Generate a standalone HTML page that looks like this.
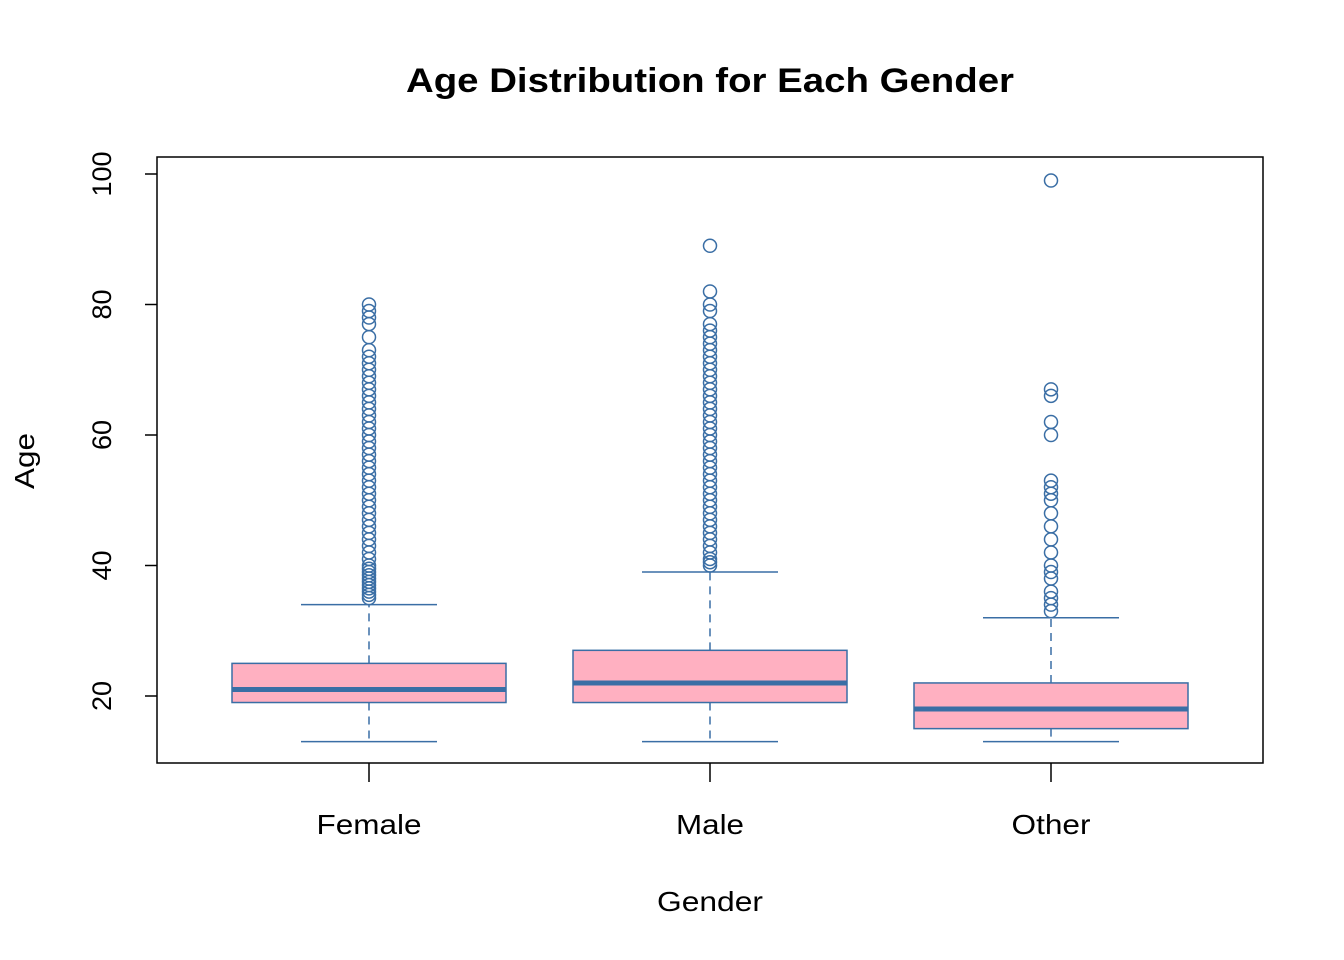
<!DOCTYPE html>
<html><head><meta charset="utf-8"><style>body{margin:0;background:#fff}svg{display:block}text{font-family:"Liberation Sans",Arial,sans-serif}</style></head>
<body>
<svg id="chart" width="1344" height="960" xmlns="http://www.w3.org/2000/svg">
<text x="710" y="92" text-anchor="middle" font-size="34" font-weight="bold" textLength="608" lengthAdjust="spacingAndGlyphs">Age Distribution for Each Gender</text>
<rect x="157" y="157" width="1106" height="606" fill="none" stroke="#000" stroke-width="1.5"/>
<text x="710" y="911" text-anchor="middle" font-size="28" textLength="106" lengthAdjust="spacingAndGlyphs">Gender</text>
<text transform="translate(34,461) rotate(-90)" text-anchor="middle" font-size="28" textLength="56" lengthAdjust="spacingAndGlyphs">Age</text>
<g id="marks"></g>
</svg>
<script>
const categories = ["Female","Male","Other"];
const q1 = [19,19,15];
const medians = [21,22,18];
const q3 = [25,27,22];
const whiskLo = [13,13,13];
const whiskHi = [34,39,32];
const outFemale = [35,35.5,36,36.5,37,37.5,38,38.5,39,39.5,40,41,42,43,44,45,46,47,48,49,50,51,52,53,54,55,56,57,58,59,60,61,62,63,64,65,66,67,68,69,70,71,72,73,75,77,78,79,80];
const outMale = [40,40.5,41,42,43,44,45,46,47,48,49,50,51,52,53,54,55,56,57,58,59,60,61,62,63,64,65,66,67,68,69,70,71,72,73,74,75,76,77,79,80,82,89];
const outOther = [33,34,35,36,38,39,40,42,44,46,48,50,51,52,53,60,62,66,67,99];
const outliers = [outFemale,outMale,outOther];
const yTicks = [20,40,60,80,100];
const labelWidths = [105,68,79];

const NS="http://www.w3.org/2000/svg";
const g=document.getElementById('marks');
const y=v=>696-(v-20)*6.525;
const x=i=>369+i*341;
const C="#3a6ea5";
function mk(tag,attrs,parent){const e=document.createElementNS(NS,tag);for(const k in attrs)e.setAttribute(k,attrs[k]);(parent||g).appendChild(e);return e;}
yTicks.forEach(t=>{
  const l=mk('line',{x1:157,x2:145,y1:y(t),y2:y(t),stroke:'#000','stroke-width':1.5});
  
  
  const tx=mk('text',{transform:`translate(111,${y(t)}) rotate(-90)`,'text-anchor':'middle','font-size':27});
  tx.textContent=t;
  
  
});
categories.forEach((c,i)=>{
  const cx=x(i);
  const tk=mk('line',{x1:cx,x2:cx,y1:763,y2:782,stroke:'#000','stroke-width':1.5});
  
  
  const lb=mk('text',{x:cx,y:834,'text-anchor':'middle','font-size':28,textLength:labelWidths[i],lengthAdjust:'spacingAndGlyphs'});
  lb.textContent=c;
  
  
  const grp=mk('g',{});
  
  
  mk('line',{x1:cx,x2:cx,y1:y(q3[i]),y2:y(whiskHi[i]),stroke:C,'stroke-width':1.5,'stroke-dasharray':'8,6'},grp);
  mk('line',{x1:cx,x2:cx,y1:y(q1[i]),y2:y(whiskLo[i]),stroke:C,'stroke-width':1.5,'stroke-dasharray':'8,6'},grp);
  mk('line',{x1:cx-68,x2:cx+68,y1:y(whiskHi[i]),y2:y(whiskHi[i]),stroke:C,'stroke-width':1.5},grp);
  mk('line',{x1:cx-68,x2:cx+68,y1:y(whiskLo[i]),y2:y(whiskLo[i]),stroke:C,'stroke-width':1.5},grp);
  mk('rect',{x:cx-137,y:y(q3[i]),width:274,height:y(q1[i])-y(q3[i]),fill:'#ffb0c1',stroke:C,'stroke-width':1.5},grp);
  mk('line',{x1:cx-137,x2:cx+137,y1:y(medians[i]),y2:y(medians[i]),stroke:C,'stroke-width':5},grp);
  outliers[i].forEach(v=>{
    const p=mk('circle',{cx:cx,cy:y(v),r:6.5,fill:'none',stroke:C,'stroke-width':1.5},grp);
    
    
  });
});
</script>
</body></html>
